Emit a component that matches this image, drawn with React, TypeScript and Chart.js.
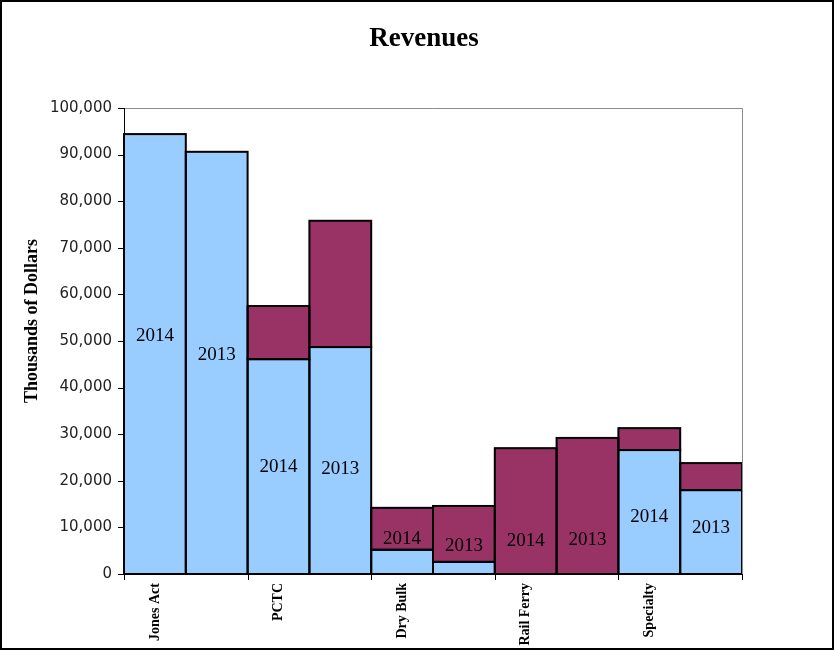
import React, { useEffect, useRef } from 'react';
import { Chart, registerables } from 'chart.js';

Chart.register(...registerables);

const categoryLabels = ['Jones Act', '', 'PCTC', '', 'Dry Bulk', '', 'Rail Ferry', '', 'Specialty', ''];
const yearLabels = ['2014', '2013', '2014', '2013', '2014', '2013', '2014', '2013', '2014', '2013'];
const lowerSegment = [94400, 90600, 46100, 48700, 5200, 2600, null, null, 26600, 18000];
const upperSegment = [null, null, 11400, 27100, 9000, 12000, 27000, 29200, 4700, 5800];
const yearLabelValues = [51000, 47000, 23000, 22500, 7500, 6000, 7100, 7300, 12200, 9900];
const yMin = 0;
const yMax = 100000;
const yStep = 10000;
const chartTitle = 'Revenues';
const yAxisTitle = 'Thousands of Dollars';

const W = 835;
const H = 651;

const decorPlugin = {
  id: 'decor',
  afterDatasetsDraw(chart: any) {
    const ctx = chart.ctx;
    ctx.save();
    ctx.strokeStyle = '#000';
    ctx.lineWidth = 2;
    chart.data.datasets.forEach((ds: any, di: number) => {
      const meta = chart.getDatasetMeta(di);
      meta.data.forEach((el: any, i: number) => {
        if (ds.data[i] == null) return;
        const p = el.getProps(['x', 'y', 'base', 'width'], true);
        ctx.strokeRect(p.x - p.width / 2, p.y, p.width, p.base - p.y);
      });
    });
    const xs = chart.scales.x;
    const ys = chart.scales.y;
    ctx.fillStyle = '#000';
    ctx.font = '19px "Liberation Serif", "Times New Roman", serif';
    ctx.textAlign = 'center';
    ctx.textBaseline = 'middle';
    yearLabels.forEach((t, i) => {
      ctx.fillText(t, xs.getPixelForValue(i), ys.getPixelForValue(yearLabelValues[i]));
    });
    ctx.restore();
  },
  afterDraw(chart: any) {
    const ctx = chart.ctx;
    const a = chart.chartArea;
    const xs = chart.scales.x;
    const ys = chart.scales.y;
    ctx.save();
    // plot area gray border (top, right)
    ctx.strokeStyle = '#8c8c8c';
    ctx.lineWidth = 1;
    ctx.beginPath();
    ctx.moveTo(a.left, a.top + 0.5);
    ctx.lineTo(a.right + 0.5, a.top + 0.5);
    ctx.lineTo(a.right + 0.5, a.bottom);
    ctx.stroke();
    // axes
    ctx.strokeStyle = '#000';
    ctx.beginPath();
    ctx.moveTo(a.left + 0.5, a.top);
    ctx.lineTo(a.left + 0.5, a.bottom);
    ctx.moveTo(a.left - 6, a.bottom + 0.5);
    ctx.lineTo(a.right + 1, a.bottom + 0.5);
    for (let v = yMin; v <= yMax; v += yStep) {
      const y = Math.round(ys.getPixelForValue(v)) + 0.5;
      ctx.moveTo(a.left - 6, y);
      ctx.lineTo(a.left, y);
    }
    for (let k = 0; k <= categoryLabels.length; k += 2) {
      const x = Math.round(xs.getPixelForValue(k - 0.5)) + 0.5;
      ctx.moveTo(x, a.bottom);
      ctx.lineTo(x, a.bottom + 6);
    }
    ctx.stroke();
    // title
    ctx.fillStyle = '#000';
    ctx.font = 'bold 27px "Liberation Serif", "Times New Roman", serif';
    ctx.textAlign = 'center';
    ctx.textBaseline = 'middle';
    ctx.fillText(chartTitle, 424, 39);
    // y axis title
    ctx.save();
    ctx.translate(32, 321);
    ctx.rotate(-Math.PI / 2);
    ctx.font = 'bold 18px "Liberation Serif", "Times New Roman", serif';
    ctx.fillText(yAxisTitle, 0, 0);
    ctx.restore();
    // outer border
    ctx.lineWidth = 2;
    ctx.strokeRect(1, 1, W - 3, H - 3);
    ctx.restore();
  },
};

export default function App() {
  const ref = useRef<HTMLCanvasElement | null>(null);
  useEffect(() => {
    document.body.style.margin = '0';
    const canvas = ref.current!;
    const chart = new Chart(canvas, {
      type: 'bar',
      data: {
        labels: categoryLabels,
        datasets: [
          {
            label: 'lower',
            data: lowerSegment as any,
            backgroundColor: '#99CCFF',
            borderWidth: 0,
            barPercentage: 1,
            categoryPercentage: 1,
          },
          {
            label: 'upper',
            data: upperSegment as any,
            backgroundColor: '#993366',
            borderWidth: 0,
            barPercentage: 1,
            categoryPercentage: 1,
          },
        ],
      },
      options: {
        responsive: false,
        animation: false,
        devicePixelRatio: 1,
        layout: { padding: { top: 108, right: 93, left: 0, bottom: 0 } },
        plugins: {
          legend: { display: false },
          tooltip: { enabled: false },
          title: { display: false },
        },
        scales: {
          x: {
            stacked: true,
            grid: { display: false, drawTicks: false },
            border: { display: false },
            ticks: {
              autoSkip: false,
              maxRotation: 90,
              minRotation: 90,
              padding: 9,
              color: '#000',
              font: { family: '"Liberation Serif", "Times New Roman", serif', size: 14, weight: 'bold' },
            },
            afterFit(scale: any) {
              scale.height = H - 574;
            },
          },
          y: {
            stacked: true,
            min: yMin,
            max: yMax,
            grid: { display: false, drawTicks: false },
            border: { display: false },
            ticks: {
              stepSize: yStep,
              padding: 12,
              color: '#222',
              font: { family: '"DejaVu Sans", Verdana, sans-serif', size: 15 },
              callback: (v: any) => Number(v).toLocaleString('en-US'),
            },
            afterFit(scale: any) {
              scale.width = 124;
            },
          },
        },
      },
      plugins: [decorPlugin],
    });
    return () => chart.destroy();
  }, []);
  return <canvas ref={ref} width={W} height={H} style={{ display: 'block' }} />;
}
